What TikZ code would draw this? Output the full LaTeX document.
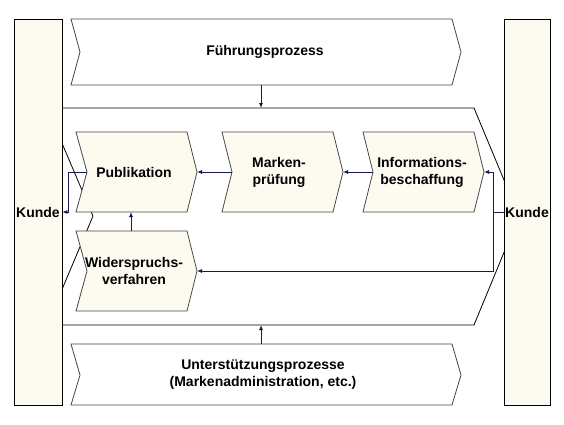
\documentclass[tikz,border=0pt]{standalone}
\usepackage{fontspec}
\setmainfont{Liberation Sans}
\usepackage{xcolor}
\usetikzlibrary{arrows.meta}
\definecolor{cream}{RGB}{253,250,240}
\definecolor{navy}{RGB}{25,25,80}
\definecolor{chevgray}{RGB}{70,70,70}

\begin{document}
\begin{tikzpicture}[x=1pt, y=-1pt,
% common options for the chevrons:
chev/.style = {draw=chevgray, line width=0.8pt},
box/.style = {chev, fill=cream},
% common options for the customer bars:
kunde/.style = {draw=black, fill=cream, line width=0.8pt, minimum width=48,
            minimum height=386, inner sep=0, font=\bfseries\fontsize{14}{17}\selectfont},
% common options for the texts:
label/.style = {align=center, inner sep=0, font=\bfseries\fontsize{14}{17}\selectfont},
% common options for the connectors:
conn/.style = {draw=navy, line width=0.8pt, -{Latex[length=5pt,width=4pt]}},
line/.style = {draw=navy, line width=0.8pt}]
\useasboundingbox (0,0) rectangle (564,424);

% Fuehrung and Unterstuetzung
\draw[chev] (71,19) -- (452,19) -- (461,52) -- (452,85) -- (71,85) -- (80,52) -- cycle;
\draw[chev] (71,344) -- (452,344) -- (461,375) -- (452,405) -- (71,405) -- (80,375) -- cycle;
\node[label] (F0) at (265,52) {Führungsprozess};
\node[label] (U0) at (263,375) {Unterstützungsprozesse\\(Markenadministration, etc.)};
\coordinate (F1) at (261,85);
\coordinate (U1) at (261,344);

% main process
\draw[draw=black, line width=0.8pt] (47,108) -- (474,108) -- (519,216) -- (474,325) -- (47,325) -- (93,216) -- cycle;
\coordinate (H1) at (261,108);
\coordinate (H2) at (261,325);

% Kunde
\node[kunde] (KL) at (38,212) {Kunde};
\node[kunde, minimum width=46] (KR) at (527,212) {Kunde};

% Publikation
\draw[box] (76,132) -- (187,132) -- (197,172) -- (187,212) -- (76,212) -- (87,172) -- cycle;
\node[label] (B1) at (134,172) {Publikation};
\coordinate (B1w) at (87,172);
\coordinate (B1e) at (197,172);
\coordinate (B1s) at (131,212);

% Markenpruefung
\draw[box] (222,132) -- (333,132) -- (343,172) -- (333,212) -- (222,212) -- (232,172) -- cycle;
\node[label] (B2) at (279,172) {Marken-\\prüfung};
\coordinate (B2w) at (232,172);
\coordinate (B2e) at (343,172);

% Informationsbeschaffung
\draw[box] (363,132) -- (474,132) -- (484,172) -- (474,212) -- (363,212) -- (373,172) -- cycle;
\node[label] (B3) at (422,172) {Informations-\\beschaffung};
\coordinate (B3w) at (373,172);
\coordinate (B3e) at (484,172);

% Widerspruchsverfahren
\draw[box] (76,231) -- (187,231) -- (197,271) -- (187,311) -- (76,311) -- (87,271) -- cycle;
\node[label] (B4) at (134,271) {Widerspruchs-\\verfahren};
\coordinate (B4n) at (131,231);
\coordinate (B4e) at (197,271);

% connectors
\coordinate (J1) at (68,172);
\coordinate (J2) at (493,212);
\draw[conn] (F1) -- (H1);
\draw[conn] (U1) -- (H2);
\draw[conn] (B2w) -- (B1e);
\draw[conn] (B3w) -- (B2e);
\draw[conn] (B4n) -- (B1s);
\draw[line] (B1w) -- (J1);
\draw[conn] (J1) |- (KL.east);
\draw[line] (KR.west) -- (J2);
\draw[conn] (J2) |- (B3e);
\draw[conn] (J2) |- (B4e);
\end{tikzpicture}
\end{document}
